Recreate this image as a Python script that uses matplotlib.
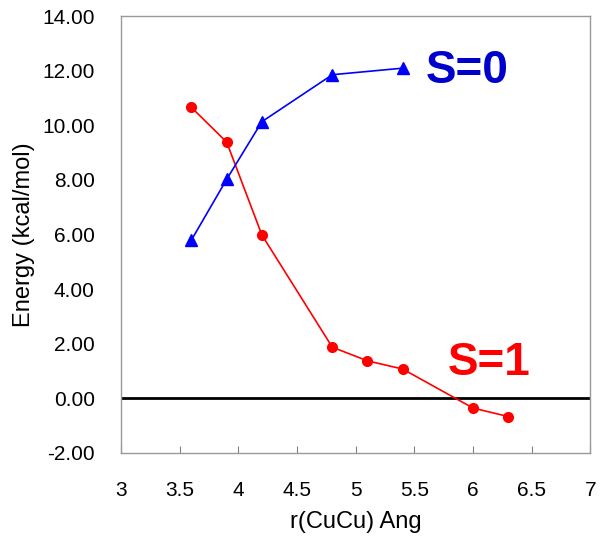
import matplotlib.pyplot as plt
from matplotlib.ticker import FormatStrFormatter, FuncFormatter

plt.rcParams['font.family'] = ['Liberation Sans', 'DejaVu Sans']

# S=1 curve (red circles)
r_s1 = [3.6, 3.9, 4.2, 4.8, 5.1, 5.4, 6.0, 6.3]
e_s1 = [10.65, 9.38, 5.98, 1.87, 1.37, 1.07, -0.36, -0.67]

# S=0 curve (blue triangles)
r_s0 = [3.6, 3.9, 4.2, 4.8, 5.4]
e_s0 = [5.80, 8.02, 10.13, 11.85, 12.09]

x_ticks = [3, 3.5, 4, 4.5, 5, 5.5, 6, 6.5, 7]
y_ticks = [-2, 0, 2, 4, 6, 8, 10, 12, 14]

fig = plt.figure(figsize=(6.04, 5.43), dpi=100)
ax = fig.add_axes([0.2005, 0.166, 0.777, 0.8045])

ax.axhline(0, color='black', lw=2, zorder=1)
ax.plot(r_s1, e_s1, color='#ff0000', marker='o', ms=7, lw=1.2, zorder=3)
ax.plot(r_s0, e_s0, color='#0000ff', marker='^', ms=8, lw=1.2, zorder=3)

ax.set_xlim(3, 7)
ax.set_ylim(-2, 14)
ax.set_xticks(x_ticks)
ax.set_yticks(y_ticks)
ax.xaxis.set_major_formatter(FuncFormatter(lambda v, p: f"{v:g}"))
ax.yaxis.set_major_formatter(FormatStrFormatter('%.2f'))
ax.tick_params(axis='x', direction='in', length=5, color='#808080', labelsize=15, pad=20)
ax.tick_params(axis='y', direction='in', length=0, labelsize=15, pad=19)
for s in ax.spines.values():
    s.set_color('#999999')
    s.set_linewidth(1)

ax.set_xlabel('r(CuCu) Ang', fontsize=17, labelpad=8)
ax.set_ylabel('Energy (kcal/mol)', fontsize=17, labelpad=5)

ax.text(5.6, 12.0, 'S=0', color='#0000cc', fontsize=33, fontweight='bold', va='center', ha='left')
ax.text(5.78, 1.3, 'S=1', color='#ff0000', fontsize=33, fontweight='bold', va='center', ha='left')

fig.savefig('out.png', dpi=100)
